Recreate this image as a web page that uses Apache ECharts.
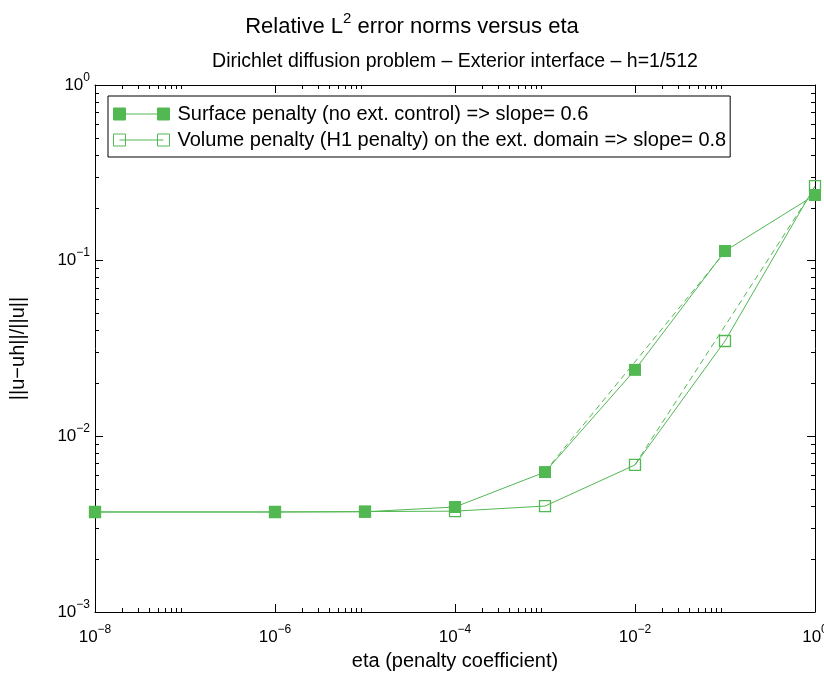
<!DOCTYPE html>
<html>
<head>
<meta charset="utf-8">
<script src="https://cdn.jsdelivr.net/npm/echarts@6/dist/echarts.min.js"></script>
<style>
  html, body { margin: 0; padding: 0; background: #fff; }
  #chart { width: 824px; height: 674px; }
</style>
</head>
<body>
<div id="chart"></div>
<script>
// Penalty coefficient values and relative L2 errors for both penalty strategies
const eta = [1e-8, 1e-6, 1e-5, 1e-4, 1e-3, 1e-2, 1e-1, 1];
const surfaceErr = [0.00371, 0.00371, 0.00372, 0.00396, 0.00626, 0.0239, 0.1135, 0.2365];
const volumeErr = [0.00371, 0.00371, 0.00373, 0.00375, 0.00401, 0.00687, 0.0349, 0.266];

// Reference slope lines (dashed)
const surfaceFitEta = [1e-3, 1e-1];
const surfaceFitErr = [0.0063, 0.112];
const volumeFitEta = [1e-2, 1];
const volumeFitErr = [0.0069, 0.262];

const seriesNames = [
  'Surface penalty (no ext. control) => slope= 0.6',
  'Volume penalty (H1 penalty) on the ext. domain => slope= 0.8'
];

// Tick positions
const xMajorTicks = [1e-8, 1e-6, 1e-4, 1e-2, 1];
const yMajorTicks = [1e-3, 1e-2, 1e-1, 1];
const xMinorDecades = [-8, -6, -4, -2];
const yMinorDecades = [-3, -2, -1];

const GREEN = '#52b852';
const FONT = '"Liberation Sans", Arial, Helvetica, sans-serif';

function minorTicks(decades) {
  const out = [];
  decades.forEach(d => {
    for (let k = 2; k <= 9; k++) out.push(Number((k * Math.pow(10, d)).toPrecision(12)));
  });
  return out;
}
const xMinorTicks = minorTicks(xMinorDecades);
const yMinorTicks = minorTicks(yMinorDecades);

function powLabel(v) {
  const e = Math.round(Math.log10(v));
  const s = e < 0 ? '\u2212' + (-e) : String(e);
  return '{b|10}{e|' + s + '}';
}

const labelRich = {
  b: { fontSize: 17, lineHeight: 27, fontFamily: FONT, color: '#000' },
  e: { fontSize: 12, lineHeight: 12, verticalAlign: 'top', fontFamily: FONT, color: '#000' }
};

function makeAxis(dim, position, min, max, ticks, len, withLabels, withLine) {
  return {
    type: 'log',
    logBase: 10,
    position: position,
    min: min,
    max: max,
    splitLine: { show: false },
    minorTick: { show: false },
    axisLine: { show: withLine, onZero: false, lineStyle: { color: '#000', width: 1 } },
    axisTick: { show: true, inside: true, length: len, customValues: ticks, lineStyle: { color: '#000', width: 1 } },
    axisLabel: withLabels
      ? { show: true, customValues: ticks, formatter: powLabel, rich: labelRich, margin: dim === 'x' ? 12 : 5, hideOverlap: false }
      : { show: false },
    silent: true
  };
}

const xMain = makeAxis('x', 'bottom', 1e-8, 1, xMajorTicks, 8, true, true);
xMain.name = 'eta (penalty coefficient)';
xMain.nameLocation = 'middle';
xMain.nameGap = 39;
xMain.nameTextStyle = { fontSize: 20, color: '#000', fontFamily: FONT };

const yMain = makeAxis('y', 'left', 1e-3, 1, yMajorTicks, 8, true, true);
yMain.name = '||u\u2212uh||/||u||';
yMain.nameLocation = 'middle';
yMain.nameGap = 67;
yMain.nameRotate = 90;
yMain.nameTextStyle = { fontSize: 20, color: '#000', fontFamily: FONT };

const chart = echarts.init(document.getElementById('chart'), null, { renderer: 'canvas' });

chart.setOption({
  animation: false,
  backgroundColor: '#fff',
  textStyle: { fontFamily: FONT },
  title: {
    text: 'Relative L{sup|2} error norms versus eta',
    left: 'center',
    top: 11,
    padding: 0,
    textStyle: {
      fontSize: 22, fontWeight: 'normal', color: '#000', fontFamily: FONT, lineHeight: 32,
      rich: { sup: { fontSize: 15, lineHeight: 15, verticalAlign: 'top', color: '#000', fontFamily: FONT } }
    }
  },
  graphic: [{
    type: 'text',
    x: 455,
    y: 62,
    silent: true,
    style: {
      text: 'Dirichlet diffusion problem \u2013 Exterior interface \u2013 h=1/512',
      fontSize: 19.5,
      fontFamily: FONT,
      fill: '#000',
      align: 'center',
      verticalAlign: 'middle'
    }
  }],
  grid: { left: 95, right: 9, top: 85, bottom: 62, containLabel: false, outerBoundsMode: 'none' },
  legend: {
    orient: 'vertical',
    left: 108,
    top: 96,
    padding: [8, 4, 7, 5],
    itemGap: 6,
    itemWidth: 56,
    itemHeight: 12,
    selectedMode: false,
    backgroundColor: '#fff',
    borderColor: '#000',
    borderWidth: 1,
    borderRadius: 0,
    textStyle: { fontSize: 20, color: '#000', fontFamily: FONT, lineHeight: 20, padding: [0, 0, 0, 3] },
    data: [
      {
        name: seriesNames[0],
        icon: 'path://M0,0h12v12h-12z M44,0h12v12h-12z M6,6L50,6',
        itemStyle: { color: GREEN, borderColor: GREEN, borderWidth: 1 }
      },
      {
        name: seriesNames[1],
        icon: 'path://M0,0h12v12h-12z M44,0h12v12h-12z M6,6L50,6',
        itemStyle: { color: 'rgba(0,0,0,0)', borderColor: GREEN, borderWidth: 1 }
      }
    ]
  },
  xAxis: [
    xMain,
    makeAxis('x', 'bottom', 1e-8, 1, xMinorTicks, 4, false, false),
    makeAxis('x', 'top', 1e-8, 1, xMajorTicks, 8, false, true),
    makeAxis('x', 'top', 1e-8, 1, xMinorTicks, 4, false, false)
  ],
  yAxis: [
    yMain,
    makeAxis('y', 'left', 1e-3, 1, yMinorTicks, 4, false, false),
    makeAxis('y', 'right', 1e-3, 1, yMajorTicks, 8, false, true),
    makeAxis('y', 'right', 1e-3, 1, yMinorTicks, 4, false, false)
  ],
  series: [
    {
      name: 'surface-slope',
      type: 'line',
      xAxisIndex: 0, yAxisIndex: 0,
      data: surfaceFitEta.map((x, i) => [x, surfaceFitErr[i]]),
      symbol: 'none',
      silent: true,
      lineStyle: { color: GREEN, width: 1, type: [6, 4] },
      z: 1
    },
    {
      name: 'volume-slope',
      type: 'line',
      xAxisIndex: 0, yAxisIndex: 0,
      data: volumeFitEta.map((x, i) => [x, volumeFitErr[i]]),
      symbol: 'none',
      silent: true,
      lineStyle: { color: GREEN, width: 1, type: [6, 4] },
      z: 1
    },
    {
      name: seriesNames[1],
      type: 'line',
      xAxisIndex: 0, yAxisIndex: 0,
      data: eta.map((x, i) => [x, volumeErr[i]]),
      symbol: 'rect',
      symbolSize: 11,
      showSymbol: true,
      lineStyle: { color: GREEN, width: 1 },
      itemStyle: { color: 'rgba(0,0,0,0)', borderColor: GREEN, borderWidth: 1.3 },
      z: 2
    },
    {
      name: seriesNames[0],
      type: 'line',
      xAxisIndex: 0, yAxisIndex: 0,
      data: eta.map((x, i) => [x, surfaceErr[i]]),
      symbol: 'rect',
      symbolSize: 12,
      showSymbol: true,
      lineStyle: { color: GREEN, width: 1 },
      itemStyle: { color: GREEN },
      z: 3
    }
  ]
});
</script>
</body>
</html>
